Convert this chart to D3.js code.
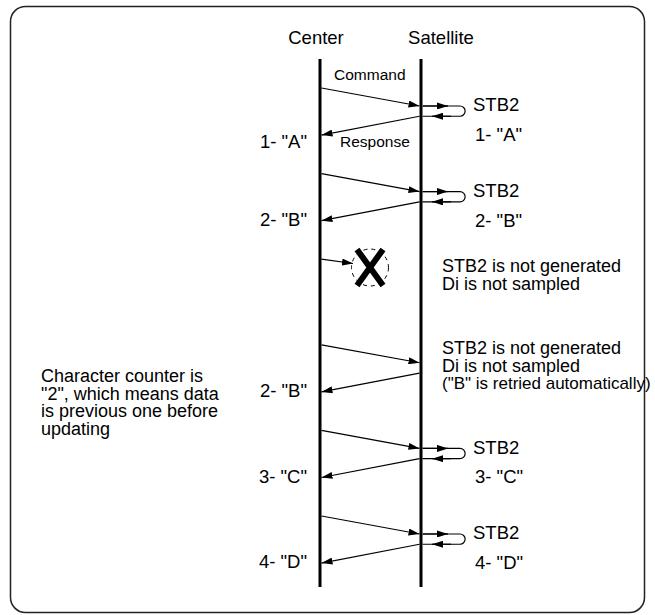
<!DOCTYPE html>
<html>
<head>
<meta charset="utf-8">
<script src="https://cdn.jsdelivr.net/npm/d3@7"></script>
<style>
  body { margin: 0; background: #fff; }
  text { font-family: "Liberation Sans", Arial, sans-serif; fill: #000; }
</style>
</head>
<body>
<div id="vis"></div>
<script>
// lifelines and message cycles (time is in "cycle" units)
const lifelines = ["Center", "Satellite"];
const cycles = [0, 1, 2, 3, 4, 5];
const cycleType = ["ok", "ok", "lost", "retry", "ok", "ok"];
const centerLabels = ['1- "A"', '2- "B"', null, '2- "B"', '3- "C"', '4- "D"'];
const centerLabelT = [0.70, 0.61, null, 0.61, 0.61, 0.61];
const satLabels = ['1- "A"', '2- "B"', null, null, '3- "C"', '4- "D"'];
const lostNote = ["STB2 is not generated", "Di is not sampled"];
const retryNote = ["STB2 is not generated", "Di is not sampled", '("B" is retried automatically)'];
const sideNote = ["Character counter is", '"2", which means data', "is previous one before", "updating"];

// timing of a message inside one cycle
const sendT = 0, arriveT = 0.21, replyT = 0.33, backT = 0.55;

let width = 655, height = 615;

let svg = d3.select('#vis')
  .append('svg')
  .attr('width', width)
  .attr('height', height);

// scales
let x = d3.scalePoint().domain(lifelines).range([320, 421]);
let y = d3.scaleLinear().domain([0, 1]).range([88, 173.6]);

// arrow head
svg.append('defs').append('marker')
  .attr('id', 'arr')
  .attr('viewBox', '0 0 11 7')
  .attr('refX', 11).attr('refY', 3.5)
  .attr('markerWidth', 11).attr('markerHeight', 7)
  .attr('markerUnits', 'userSpaceOnUse')
  .attr('orient', 'auto')
  .append('path').attr('d', 'M0,0 L11,3.5 L0,7 Z').attr('fill', '#000');

// frame
svg.append('rect')
  .attr('x', 10.5).attr('y', 6.5)
  .attr('width', 634).attr('height', 606)
  .attr('rx', 15).attr('ry', 15)
  .attr('fill', 'none').attr('stroke', '#222').attr('stroke-width', 1.5);

// headers
svg.append('text').attr('x', x('Center') - 4).attr('y', 44)
  .attr('text-anchor', 'middle').style('font-size', '18.5px').text('Center');
svg.append('text').attr('x', x('Satellite') + 20).attr('y', 44)
  .attr('text-anchor', 'middle').style('font-size', '18.5px').text('Satellite');

// lifelines
svg.selectAll('.life').data(lifelines).enter().append('line')
  .attr('x1', d => x(d)).attr('x2', d => x(d))
  .attr('y1', y(-0.34)).attr('y2', y(5.83))
  .attr('stroke', '#000').attr('stroke-width', 3);

let g = svg.append('g');
let okCycles = cycles.filter(c => cycleType[c] != 'lost');
let loopCycles = cycles.filter(c => cycleType[c] == 'ok');

// command arrows
g.selectAll('.cmd').data(okCycles).enter().append('line')
  .attr('x1', x('Center') + 1.5).attr('y1', c => y(c + sendT))
  .attr('x2', x('Satellite') - 1.5).attr('y2', c => y(c + arriveT))
  .attr('stroke', '#000').attr('stroke-width', 1.2)
  .attr('marker-end', 'url(#arr)');

// response arrows
g.selectAll('.rsp').data(okCycles).enter().append('line')
  .attr('x1', x('Satellite') - 1.5).attr('y1', c => y(c + replyT))
  .attr('x2', x('Center') + 1.5).attr('y2', c => y(c + backT))
  .attr('stroke', '#000').attr('stroke-width', 1.2)
  .attr('marker-end', 'url(#arr)');

// STB2 loops
let loopR = (y(replyT) - y(arriveT)) / 2;
g.selectAll('.loop').data(loopCycles).enter().append('path')
  .attr('d', c => {
    let top = y(c + arriveT), bot = y(c + replyT), xs = x('Satellite') + 1.5, xe = x('Satellite') + 39;
    return `M${xs},${top} H${xe} A${loopR},${loopR} 0 0 1 ${xe},${bot} H${xs}`;
  })
  .attr('fill', 'none').attr('stroke', '#000').attr('stroke-width', 1.2);
g.selectAll('.loopA').data(loopCycles).enter().append('line')
  .attr('x1', x('Satellite') + 2).attr('x2', x('Satellite') + 27)
  .attr('y1', c => y(c + arriveT)).attr('y2', c => y(c + arriveT))
  .attr('stroke', '#000').attr('stroke-width', 1.2).attr('marker-end', 'url(#arr)');
g.selectAll('.loopB').data(loopCycles).enter().append('line')
  .attr('x1', x('Satellite') + 30).attr('x2', x('Satellite') + 11)
  .attr('y1', c => y(c + replyT)).attr('y2', c => y(c + replyT))
  .attr('stroke', '#000').attr('stroke-width', 1.2).attr('marker-end', 'url(#arr)');
g.selectAll('.stb').data(loopCycles).enter().append('text')
  .attr('x', x('Satellite') + 52).attr('y', c => y(c + 0.27))
  .style('font-size', '18.5px').text('STB2');

// labels at both ends
g.selectAll('.cl').data(cycles.filter(c => centerLabels[c])).enter().append('text')
  .attr('x', x('Center') - 13).attr('y', c => y(c + centerLabelT[c]))
  .attr('text-anchor', 'end').style('font-size', '18.5px').text(c => centerLabels[c]);
g.selectAll('.sl').data(cycles.filter(c => satLabels[c])).enter().append('text')
  .attr('x', x('Satellite') + 54).attr('y', c => y(c + 0.62))
  .style('font-size', '18.5px').text(c => satLabels[c]);

// Command / Response captions
svg.append('text').attr('x', 334).attr('y', y(-0.09)).style('font-size', '15.5px').text('Command');
svg.append('text').attr('x', 340).attr('y', y(0.69)).style('font-size', '15.5px').text('Response');

// lost command
let lc = cycles.find(c => cycleType[c] == 'lost');
g.append('line')
  .attr('x1', x('Center') + 1.5).attr('y1', y(lc + sendT))
  .attr('x2', 353).attr('y2', y(lc + 0.05))
  .attr('stroke', '#000').attr('stroke-width', 1.2).attr('marker-end', 'url(#arr)');
let cx = 370, cy = y(lc + 0.097);
g.append('circle').attr('cx', cx).attr('cy', cy).attr('r', 18.5)
  .attr('fill', 'none').attr('stroke', '#000').attr('stroke-width', 1).attr('stroke-dasharray', '4,4');
g.append('path')
  .attr('d', `M${cx - 13},${cy - 18} L${cx + 13},${cy + 18} M${cx + 13},${cy - 18} L${cx - 13},${cy + 18}`)
  .attr('stroke', '#000').attr('stroke-width', 6).attr('fill', 'none');

// notes
g.selectAll('.ln').data(lostNote).enter().append('text')
  .attr('x', 442).attr('y', (d, i) => y(lc + 0.15) + i * 17.5)
  .style('font-size', '18px').text(d => d);
let rc = cycles.find(c => cycleType[c] == 'retry');
g.selectAll('.rn').data(retryNote).enter().append('text')
  .attr('x', 442).attr('y', (d, i) => y(rc + 0.11) + i * 17.5)
  .style('font-size', (d, i) => i == 2 ? '17px' : '18px').text(d => d);
g.selectAll('.sn').data(sideNote).enter().append('text')
  .attr('x', 41).attr('y', (d, i) => y(3.44) + i * 17.5)
  .style('font-size', '18px').text(d => d);
</script>
</body>
</html>
